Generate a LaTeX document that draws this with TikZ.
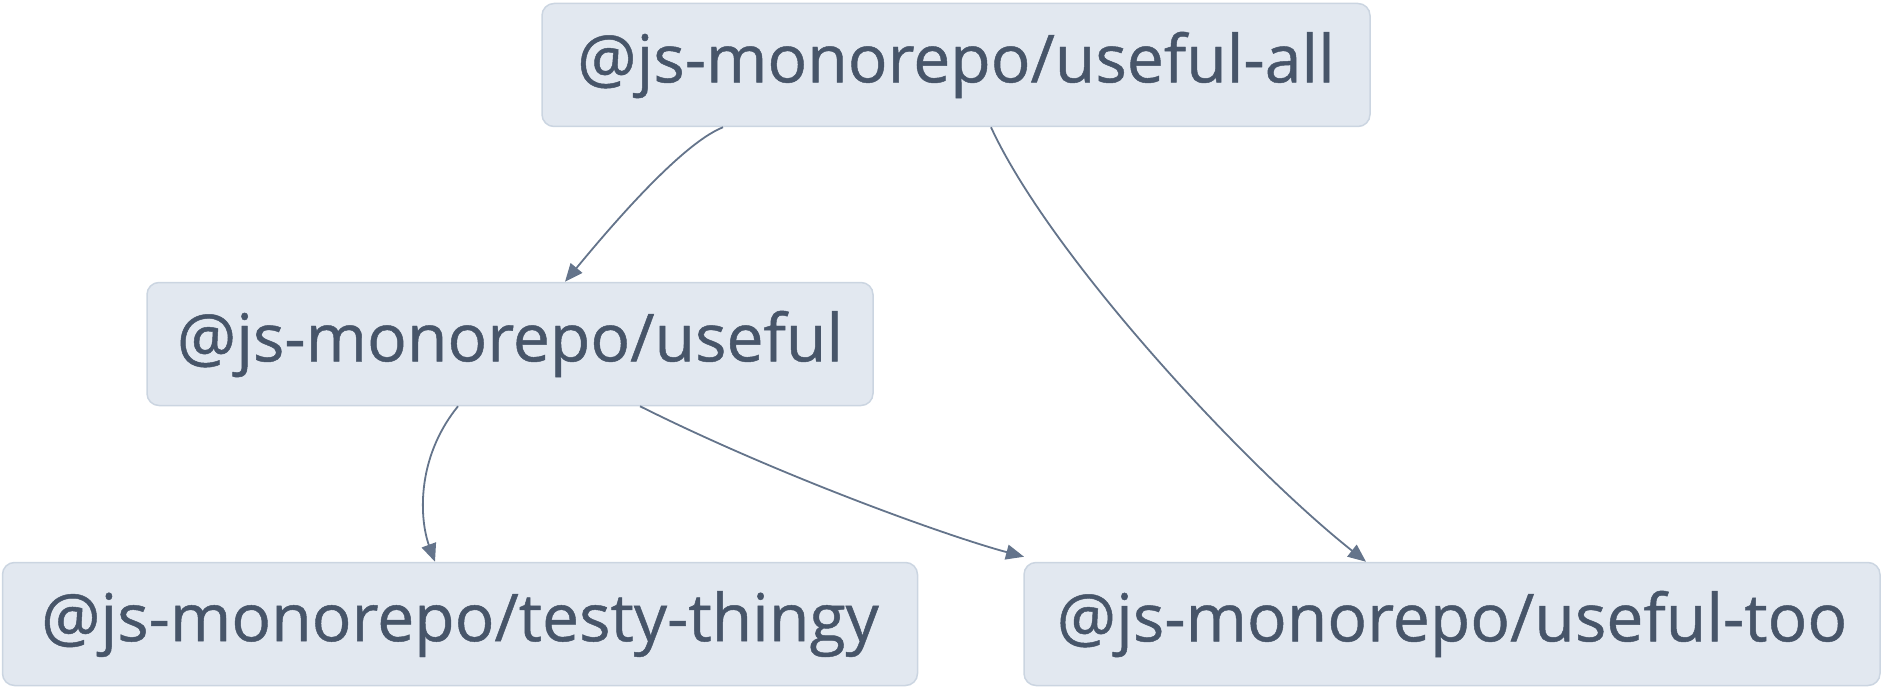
\documentclass[tikz,border=0pt]{standalone}
\usepackage{fontspec}
\setmainfont{Open Sans}
\newfontfamily\pkgfont{Open Sans}[FakeBold=0.7]
\usetikzlibrary{arrows.meta}
\definecolor{boxfill}{HTML}{E2E8F0}
\definecolor{boxline}{HTML}{CBD5E1}
\definecolor{txt}{HTML}{475569}
\definecolor{edge}{HTML}{64748B}
\tikzset{
  pkg/.style={draw=boxline, fill=boxfill, line width=1.5pt, rounded corners=12pt,
    text=txt, font=\pkgfont\fontsize{66}{72}\selectfont, inner sep=0pt, minimum height=123pt},
  dep/.style={draw=edge, line width=1.8pt, -{Triangle[length=18pt,width=15pt]}}
}
\begin{document}
\begin{tikzpicture}[x=1pt,y=-1pt]
\useasboundingbox (0,0) rectangle (1884,690);
\node[pkg, minimum width=828pt] (all) at (956,65) {@js-monorepo/useful-all};
\node[pkg, minimum width=726pt] (useful) at (510,344) {@js-monorepo/useful};
\node[pkg, minimum width=915pt] (testy) at (460,624) {@js-monorepo/testy-thingy};
\node[pkg, minimum width=856pt] (too) at (1452,624) {@js-monorepo/useful-too};
\draw[dep] ([xshift=-233pt]all.south) .. controls +(-45,18) and +(35,-42) .. ([xshift=55pt]useful.north);
\draw[dep] ([xshift=35pt]all.south) .. controls +(60,130) and +(-120,-95) .. ([xshift=-86pt]too.north);
\draw[dep] ([xshift=-52pt]useful.south) .. controls +(-43,53) and +(-15,-41) .. ([xshift=-25pt]testy.north);
\draw[dep] ([xshift=130pt]useful.south) .. controls +(140,70) and +(-75,-20) .. ([xshift=-428pt,yshift=5pt]too.north);
\end{tikzpicture}
\end{document}
